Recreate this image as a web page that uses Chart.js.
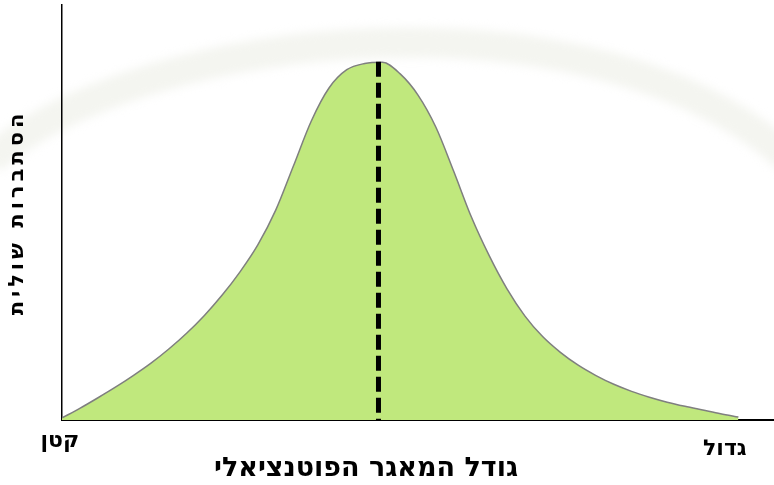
<!DOCTYPE html>
<html>
<head>
<meta charset="utf-8">
<script src="https://cdn.jsdelivr.net/npm/chart.js@4.4.1/dist/chart.umd.min.js"></script>
<style>
  html, body { margin: 0; padding: 0; background: #ffffff; }
  #wrap { width: 774px; height: 485px; position: relative; }
</style>
</head>
<body>
<div id="wrap"><canvas id="c" width="774" height="485"></canvas></div>
<script>
const curveX = [0, 2.5, 5, 7.5, 10, 12.5, 15, 17.5, 20, 22.5, 25, 27.5, 30, 32.5, 35, 37.5, 40, 42.5, 45,
                47.5, 50, 52.5, 55, 57.5, 60, 62.5, 65, 67.5, 70, 72.5, 75, 77.5, 80, 82.5, 85, 87.5, 90, 92.5, 95];
const curveY = [0.5, 2.8, 5.3, 7.9, 10.7, 13.7, 17.1, 20.9, 25.2, 30.1, 35.7, 42.2, 50.5, 61.2, 72.0, 80.0, 84.4, 85.9, 86.2,
                83.4, 78.3, 70.6, 60.0, 48.9, 39.6, 31.6, 25.1, 20.1, 16.3, 13.2, 10.7, 8.6, 6.9, 5.5, 4.3, 3.3, 2.4, 1.5, 0.7];
const modeX = 44.45;
const modeY = [86.3, 0];
const endLabelValues = [-0.3, 93.1];
const endLabels = ['קטן', 'גדול'];
const xTitle = 'גודל המאגר הפוטנציאלי';
const yTitle = 'הסתברות שולית';

const FONT = "'DejaVu Sans', 'Liberation Sans', Arial, sans-serif";

const curvePoints = curveX.map((x, i) => ({ x: x, y: curveY[i] }));
const modePoints = modeY.map(y => ({ x: modeX, y: y }));

const watermark = {
  id: 'watermark',
  beforeDraw(chart) {
    const ctx = chart.ctx;
    ctx.save();
    ctx.filter = 'blur(5px)';
    ctx.strokeStyle = 'rgba(244,245,240,1)';
    ctx.lineWidth = 30;
    ctx.beginPath();
    ctx.moveTo(-10, 160);
    ctx.bezierCurveTo(150, 24, 600, -16, 790, 160);
    ctx.stroke();
    ctx.restore();
  }
};

const labelsPlugin = {
  id: 'axisEndLabels',
  afterDraw(chart) {
    const ctx = chart.ctx;
    const xs = chart.scales.x;
    const bottom = chart.chartArea.bottom;
    ctx.save();
    ctx.fillStyle = '#000';
    ctx.textAlign = 'center';
    ctx.textBaseline = 'middle';
    ctx.direction = 'rtl';
    ctx.font = 'bold 22px ' + FONT;
    const offs = [21, 29];
    endLabels.forEach((t, i) => {
      ctx.fillText(t, xs.getPixelForValue(endLabelValues[i]), bottom + offs[i]);
    });
    ctx.font = 'bold 27px ' + FONT;
    ctx.fillText(xTitle, 366, bottom + 49);
    ctx.restore();
  }
};

const spacedYTitle = {
  id: 'spacedYTitle',
  beforeDraw(chart) {
    const s = chart.scales.y;
    if (s && !s._spacedWrapped) {
      const orig = s.drawTitle.bind(s);
      s.drawTitle = function () {
        const c = this.ctx;
        const prev = c.letterSpacing;
        c.letterSpacing = '4px';
        orig();
        c.letterSpacing = prev;
      };
      s._spacedWrapped = true;
    }
  }
};

new Chart(document.getElementById('c'), {
  type: 'line',
  data: {
    datasets: [
      {
        data: modePoints,
        borderColor: '#000000',
        borderWidth: 5,
        borderDash: [15, 6],
        pointRadius: 0,
        fill: false,
        order: 0
      },
      {
        data: curvePoints,
        borderColor: '#7f7f7f',
        borderWidth: 1.5,
        backgroundColor: '#c0e87d',
        fill: 'origin',
        pointRadius: 0,
        cubicInterpolationMode: 'monotone',
        order: 1
      }
    ]
  },
  options: {
    responsive: false,
    animation: false,
    events: [],
    layout: { padding: { left: 0, right: 0, top: 5, bottom: 0 }, autoPadding: false },
    plugins: { legend: { display: false }, tooltip: { enabled: false } },
    scales: {
      x: {
        type: 'linear', min: 0, max: 100,
        grid: { display: false },
        ticks: { display: false },
        border: { display: true, color: '#000000', width: 2 },
        afterFit(scale) { scale.height = 65; }
      },
      y: {
        type: 'linear', min: 0, max: 100,
        grid: { display: false },
        ticks: { display: false },
        border: { display: true, color: '#000000', width: 1.5 },
        title: {
          display: true, text: yTitle, color: '#000000',
          font: { family: FONT, size: 21, weight: 'bold' },
          padding: { top: 5, bottom: 0 }
        },
        afterFit(scale) { scale.width = 62; }
      }
    }
  },
  plugins: [watermark, spacedYTitle, labelsPlugin]
});
</script>
</body>
</html>
